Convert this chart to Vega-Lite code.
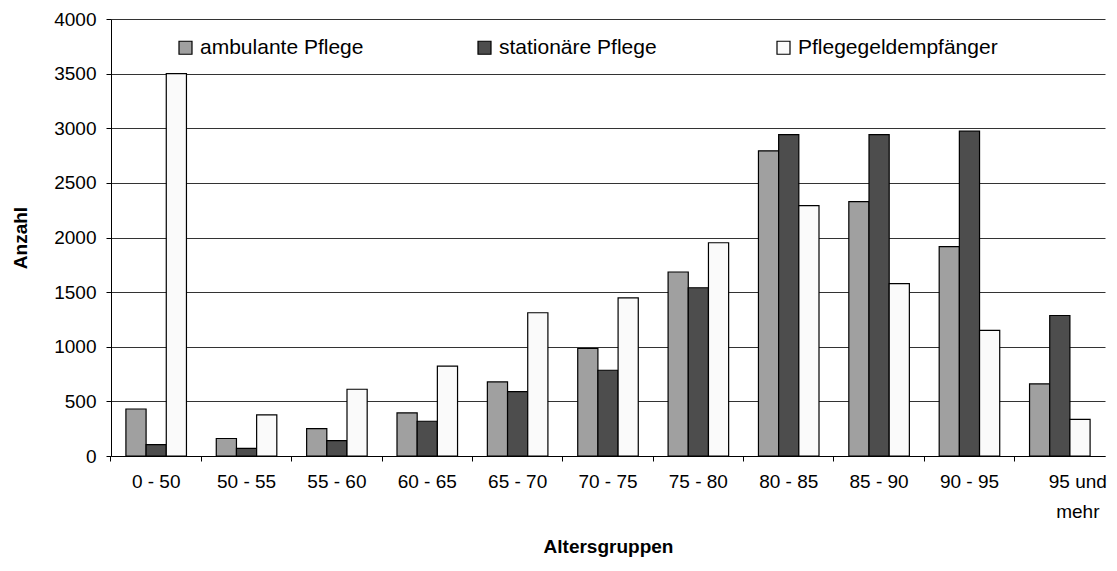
{
  "$schema": "https://vega.github.io/schema/vega-lite/v6.json",
  "width": 994,
  "height": 437,
  "autosize": {"type": "none"},
  "padding": {"left": 111, "top": 19, "right": 12, "bottom": 115},
  "background": "white",
  "config": {
    "view": {"stroke": null},
    "font": "Liberation Sans"
  },
  "data": {
    "values": [
      {"Altersgruppe": "0 - 50", "Art": "ambulante Pflege", "Anzahl": 430},
      {"Altersgruppe": "0 - 50", "Art": "stationäre Pflege", "Anzahl": 105},
      {"Altersgruppe": "0 - 50", "Art": "Pflegegeldempfänger", "Anzahl": 3500},
      {"Altersgruppe": "50 - 55", "Art": "ambulante Pflege", "Anzahl": 160},
      {"Altersgruppe": "50 - 55", "Art": "stationäre Pflege", "Anzahl": 70},
      {"Altersgruppe": "50 - 55", "Art": "Pflegegeldempfänger", "Anzahl": 376},
      {"Altersgruppe": "55 - 60", "Art": "ambulante Pflege", "Anzahl": 251},
      {"Altersgruppe": "55 - 60", "Art": "stationäre Pflege", "Anzahl": 141},
      {"Altersgruppe": "55 - 60", "Art": "Pflegegeldempfänger", "Anzahl": 611},
      {"Altersgruppe": "60 - 65", "Art": "ambulante Pflege", "Anzahl": 394},
      {"Altersgruppe": "60 - 65", "Art": "stationäre Pflege", "Anzahl": 318},
      {"Altersgruppe": "60 - 65", "Art": "Pflegegeldempfänger", "Anzahl": 822},
      {"Altersgruppe": "65 - 70", "Art": "ambulante Pflege", "Anzahl": 678},
      {"Altersgruppe": "65 - 70", "Art": "stationäre Pflege", "Anzahl": 590},
      {"Altersgruppe": "65 - 70", "Art": "Pflegegeldempfänger", "Anzahl": 1311},
      {"Altersgruppe": "70 - 75", "Art": "ambulante Pflege", "Anzahl": 984},
      {"Altersgruppe": "70 - 75", "Art": "stationäre Pflege", "Anzahl": 785},
      {"Altersgruppe": "70 - 75", "Art": "Pflegegeldempfänger", "Anzahl": 1448},
      {"Altersgruppe": "75 - 80", "Art": "ambulante Pflege", "Anzahl": 1684},
      {"Altersgruppe": "75 - 80", "Art": "stationäre Pflege", "Anzahl": 1540},
      {"Altersgruppe": "75 - 80", "Art": "Pflegegeldempfänger", "Anzahl": 1952},
      {"Altersgruppe": "80 - 85", "Art": "ambulante Pflege", "Anzahl": 2793},
      {"Altersgruppe": "80 - 85", "Art": "stationäre Pflege", "Anzahl": 2942},
      {"Altersgruppe": "80 - 85", "Art": "Pflegegeldempfänger", "Anzahl": 2291},
      {"Altersgruppe": "85 - 90", "Art": "ambulante Pflege", "Anzahl": 2328},
      {"Altersgruppe": "85 - 90", "Art": "stationäre Pflege", "Anzahl": 2942},
      {"Altersgruppe": "85 - 90", "Art": "Pflegegeldempfänger", "Anzahl": 1577},
      {"Altersgruppe": "90 - 95", "Art": "ambulante Pflege", "Anzahl": 1916},
      {"Altersgruppe": "90 - 95", "Art": "stationäre Pflege", "Anzahl": 2973},
      {"Altersgruppe": "90 - 95", "Art": "Pflegegeldempfänger", "Anzahl": 1149},
      {"Altersgruppe": "95 und mehr", "Art": "ambulante Pflege", "Anzahl": 660},
      {"Altersgruppe": "95 und mehr", "Art": "stationäre Pflege", "Anzahl": 1286},
      {"Altersgruppe": "95 und mehr", "Art": "Pflegegeldempfänger", "Anzahl": 336}
    ]
  },
  "mark": {"type": "bar", "stroke": "#000000", "strokeWidth": 1.2},
  "encoding": {
    "x": {
      "field": "Altersgruppe",
      "type": "nominal",
      "sort": null,
      "scale": {"paddingInner": 0.33, "paddingOuter": 0.165},
      "axis": {
        "title": "Altersgruppen",
        "titleFont": "Liberation Sans",
        "titleFontSize": 19,
        "titleFontWeight": "bold",
        "titleColor": "#000000",
        "titlePadding": 16,
        "labelFont": "Liberation Sans",
        "labelFontSize": 19,
        "labelColor": "#000000",
        "labelAngle": 0,
        "labelPadding": 11,
        "labelLineHeight": 30,
        "labelExpr": "datum.label == '95 und mehr' ? ['95 und', '   mehr'] : datum.label",
        "labelOffset": {"condition": {"test": "datum.value == '95 und mehr'", "value": 18}, "value": 0},
        "bandPosition": -0.2475,
        "tickSize": 5,
        "tickColor": "#000000",
        "domainColor": "#000000",
        "grid": false
      }
    },
    "xOffset": {
      "field": "Art",
      "type": "nominal",
      "sort": ["ambulante Pflege", "stationäre Pflege", "Pflegegeldempfänger"],
      "scale": {"paddingInner": 0, "paddingOuter": 0}
    },
    "y": {
      "field": "Anzahl",
      "type": "quantitative",
      "scale": {"domain": [0, 4000], "nice": false},
      "axis": {
        "title": "Anzahl",
        "titleFont": "Liberation Sans",
        "titleFontSize": 19,
        "titleFontWeight": "bold",
        "titleColor": "#000000",
        "titlePadding": 23,
        "values": [0, 500, 1000, 1500, 2000, 2500, 3000, 3500, 4000],
        "format": "d",
        "labelFont": "Liberation Sans",
        "labelFontSize": 19,
        "labelColor": "#000000",
        "labelPadding": 10,
        "tickSize": 5,
        "tickColor": "#000000",
        "domainColor": "#000000",
        "grid": true,
        "gridColor": "#333333",
        "gridWidth": 1
      }
    },
    "color": {
      "field": "Art",
      "type": "nominal",
      "sort": ["ambulante Pflege", "stationäre Pflege", "Pflegegeldempfänger"],
      "scale": {
        "domain": ["ambulante Pflege", "stationäre Pflege", "Pflegegeldempfänger"],
        "range": ["#a0a0a0", "#4d4d4d", "#fafafa"]
      },
      "legend": {
        "title": null,
        "orient": "none",
        "direction": "horizontal",
        "legendX": 64,
        "legendY": 18,
        "gridAlign": "all",
        "columns": 3,
        "columnPadding": 74,
        "symbolType": "square",
        "symbolSize": 169,
        "symbolStrokeColor": "#000000",
        "symbolStrokeWidth": 1.2,
        "symbolOpacity": 1,
        "labelFont": "Liberation Sans",
        "labelFontSize": 21,
        "labelColor": "#000000",
        "labelOffset": 4,
        "labelLimit": 400,
        "fillColor": "white"
      }
    }
  }
}
